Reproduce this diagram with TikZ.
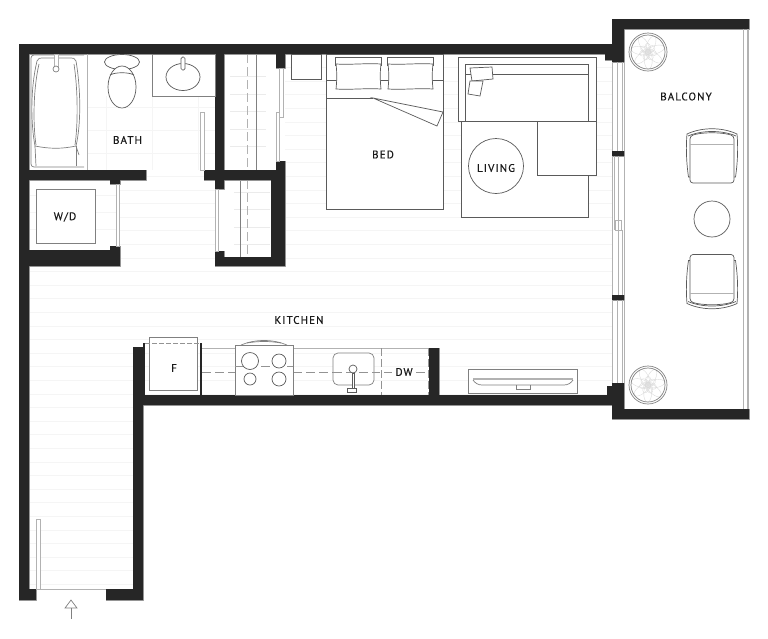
\documentclass[tikz,border=0pt]{standalone}
\usepackage{fontspec}
\newfontfamily\planfont[LetterSpace=10,FakeBold=0.4]{PT Sans}
\definecolor{wallcol}{HTML}{262626}
\definecolor{linecol}{HTML}{5a5a5a}
\tikzset{
    wall/.style={fill=wallcol,preaction={draw=gray!70,line width=0.8pt}},
    furn/.style={draw=linecol,line width=0.7pt,fill=white},
    thin/.style={draw=linecol,line width=0.7pt},
    glass/.style={draw=gray!60,line width=1pt},
    floorline/.style={draw=black!4,line width=0.7pt},
    hanger/.style={draw=black!8,line width=1pt},
    leaf/.style={draw=black!14,line width=0.4pt},
    dashline/.style={draw=gray!85,line width=0.7pt,dash pattern=on 9pt off 4pt},
    roomlabel/.style={font=\planfont\fontsize{11}{11}\selectfont,text=black!90,inner sep=0pt}
}
\begin{document}
\begin{tikzpicture}[x=1pt,y=-1pt]
    \useasboundingbox (0,0) rectangle (768,638);

    % Floor boards
    \foreach \k in {0,...,14} {
        \draw[floorline] (285,67.5+13.6*\k) -- (612,67.5+13.6*\k);
    }
    \foreach \k in {9,...,14} {
        \draw[floorline] (120,67.5+13.6*\k) -- (215,67.5+13.6*\k);
    }
    \foreach \k in {15,...,24} {
        \draw[floorline] (29,67.5+13.6*\k) -- (612,67.5+13.6*\k);
    }
    \foreach \k in {25,...,38} {
        \draw[floorline] (29,67.5+13.6*\k) -- (133,67.5+13.6*\k);
    }

    % Bath tiles
    \foreach \y in {107,130,153,176} {
        \draw[floorline] (87,\y) -- (215,\y);
    }
    \foreach \x in {106,152,198} {
        \draw[floorline] (\x,96) -- (\x,170);
    }
    \foreach \y in {195,212,229} {
        \draw[floorline] (29,\y) -- (116,\y);
    }

    % Closet rods
    \foreach \y in {76,94,111,129,146} {
        \draw[hanger] (230,\y) -- (266,\y);
    }
    \foreach \y in {192,209,227,244} {
        \draw[hanger] (234,\y) -- (270,\y);
    }
    \draw[thin,draw=gray] (256,54) -- (256,170);
    \draw[thin,draw=gray] (240,180) -- (240,257);
    \draw[dashline,draw=gray!60] (247,54) -- (247,170);
    \draw[dashline,draw=gray!60] (247,180) -- (247,257);

    % Walls
    \path[wall]
        (19,44) rectangle (612,54)
        (19,44) rectangle (29,600)
        (19,589) rectangle (36,600)
        (133,347) rectangle (143,600)
        (106,589) rectangle (143,600)
        (143,395) rectangle (612,405)
        (429,348) rectangle (439,395)
        (29,170) rectangle (146,180)
        (204,170) rectangle (285,180)
        (215,54) rectangle (224,189)
        (276,161) rectangle (285,266)
        (271,180) rectangle (285,266)
        (215,257) rectangle (285,266)
        (215,251) rectangle (224,266)
        (276,54) rectangle (285,68)
        (110,180) rectangle (120,184)
        (29,250) rectangle (120,266)
        (110,246) rectangle (120,266)
        (612,19) rectangle (749,29)
        (612,19) rectangle (624,62)
        (605,54) rectangle (624,60)
        (612,383) rectangle (624,419)
        (607,386) rectangle (624,405)
        (612,409) rectangle (749,419)
        (612,151) rectangle (624,156)
        (612,295) rectangle (624,300);

    % Windows and railing
    \foreach \x in {612,617,622,624} {
        \draw[glass] (\x,62) -- (\x,151);
        \draw[glass] (\x,300) -- (\x,383);
    }
    \foreach \x in {612,614,618} {
        \draw[glass] (\x,156) -- (\x,230);
    }
    \foreach \x in {612,618,622} {
        \draw[glass] (\x,230) -- (\x,295);
    }
    \draw[glass] (624,156) -- (624,295);
    \draw[glass,line width=0.7pt] (615,220) rectangle (621,230);
    \draw[glass] (743,29) -- (743,409);
    \draw[glass,line width=2pt] (748,29) -- (748,409);

    % Doors
    \draw[glass,fill=white] (200,112) rectangle (204,170);
    \draw[glass,fill=white] (279,68) rectangle (283,117);
    \draw[glass,fill=white] (276,112) rectangle (279,161);
    \draw[glass,fill=white] (215,189) rectangle (218,251);
    \draw[glass,fill=white] (116,184) rectangle (119,246);
    \draw[glass,fill=white] (36,519) rectangle (40,589);
    \draw[glass] (36,589) -- (106,589);

    % Entry arrow
    \coordinate (entrytip) at (71,600);
    \coordinate (entrybase) at (71,608);
    \coordinate (entryend) at (71,619);
    \draw[thin,draw=gray] (65,608) -- (entrytip) -- (77,608) -- cycle;
    \draw[thin,draw=gray] (entrybase) -- (entryend);

    % Tub
    \draw[glass] (87,54) -- (87,170);
    \draw[thin,draw=gray,rounded corners=3pt] (84,55) -- (31,55) -- (31,167) -- (84,167);
    \draw[thin,draw=gray] (37,61) .. controls (30,90) and (31,125) .. (35,146)
        .. controls (50,149) and (62,149) .. (76,146)
        .. controls (81,125) and (81,90) .. (76,61)
        .. controls (75,58) and (73,58) .. (71,58) -- (42,58)
        .. controls (40,58) and (38,58) .. (37,61) -- cycle;
    \draw[thin,draw=gray] (39,64) .. controls (33,90) and (33,125) .. (36,145);
    \draw[thin,draw=gray] (74,64) .. controls (78,90) and (78,125) .. (75,145);
    \draw[thin,draw=gray] (35,146) -- (36,166);
    \draw[thin,draw=gray] (76,146) -- (76,166);
    \draw[thin,draw=gray] (76,146) -- (79,155);
    \draw[glass,fill=white] (54,54) rectangle (58,68);
    \draw[furn,draw=gray] (56,69) circle (3);

    % Toilet
    \draw[furn] (122,62) ellipse (17.5 and 7.5);
    \draw[furn] (122,87) ellipse (14 and 21);
    \draw[thin] (110,75) .. controls (115,72) and (129,72) .. (134,75);

    % Vanity
    \draw[furn,draw=gray] (152,54) rectangle (215,96);
    \draw[furn] (183,77) ellipse (17 and 13.5);
    \draw[furn,rounded corners=1.5pt] (181,57) rectangle (185,70);

    % Laundry
    \draw[furn,draw=gray] (36,189) rectangle (95,243);
    \node[roomlabel] (washer) at (65,217) {W/D};
    \node[roomlabel] (bath) at (127.5,140) {BATH};

    % Bed
    \draw[furn] (291,54) rectangle (321,79);
    \draw[furn] (326,54) rectangle (443,209);
    \draw[thin] (326,80) -- (443,80);
    \foreach \x in {335,387} {
        \draw[furn] (\x,57) -- (\x+46,57) -- (\x+46,65) -- (\x,65) -- cycle;
        \draw[furn] (\x+1,64) .. controls (\x+15,65) and (\x+30,63) .. (\x+46,64)
            .. controls (\x+45,72) and (\x+45,80) .. (\x+46,89)
            .. controls (\x+30,88) and (\x+15,90) .. (\x+1,89)
            .. controls (\x+2,80) and (\x+2,72) .. (\x+1,64) -- cycle;
    }
    \draw[thin] (326,98) -- (373,98);
    \draw[furn] (373,98) -- (443,112) -- (437,126) -- cycle;
    \node[roomlabel] (bed) at (383,154.5) {BED};

    % Living
    \draw[furn] (461,121) rectangle (588,217);
    \draw[furn] (458,57) rectangle (596,121);
    \draw[furn] (465,64) rectangle (588,121);
    \draw[thin] (465,74) -- (588,74);
    \draw[furn] (537,121) rectangle (596,175);
    \draw[furn] (470,68) -- (492,67) -- (493,79) -- (472,81) -- cycle;
    \draw[furn] (470,81) -- (483,81) -- (480,96) -- (468,94) -- cycle;
    \draw[furn] (496,166) circle (27.5);
    \node[roomlabel] (living) at (496,168) {LIVING};

    % Balcony
    \node[roomlabel] (balcony) at (686,96.5) {BALCONY};
    \foreach \c/\s in {155/1,282.5/-1} {
        \begin{scope}[shift={(712,\c)},yscale=\s]
            \draw[furn] (-22,22) -- (-23.5,22) .. controls (-26,5) and (-26,-10) .. (-25,-21)
                .. controls (-10,-28) and (10,-28) .. (25,-21)
                .. controls (26,-10) and (26,5) .. (23.5,22) -- (22,22);
            \draw[thin] (-24,-19) .. controls (-10,-25) and (10,-25) .. (24,-19);
            \draw[furn,rounded corners=3pt] (-22,-19) .. controls (-10,-23) and (10,-23) .. (22,-19)
                -- (22,28) -- (-22,28) -- cycle;
            \draw[glass] (-22,-11) -- (22,-11);
        \end{scope}
    }
    \draw[furn] (712,219) circle (18);

    % Planters
    \foreach \c/\t in {52/17,385/64} {
        \foreach \a in {0,51,...,310} {
            \draw[leaf,rotate around={\a+\t:(648,\c)}] (656,\c) ellipse (9 and 4);
            \draw[leaf,rotate around={\a+\t+25:(648,\c)}] (651,\c) ellipse (6 and 3);
        }
        \draw[thin,draw=gray] (648,\c) circle (19);
        \draw[thin,draw=gray] (648,\c) circle (17);
    }

    % Fridge
    \draw[furn,draw=gray] (149,337) rectangle (197,390);
    \draw[dashline,dash pattern=on 5pt off 2pt] (145,343) -- (201,343);
    \draw[draw=wallcol,line width=1.5pt] (144,343) -- (144,395);
    \draw[draw=wallcol,line width=1.5pt] (201,343) -- (201,395);
    \node[roomlabel] (fridge) at (174,368) {F};
    \node[roomlabel] (kitchen) at (299,320) {KITCHEN};

    % Counter
    \draw[glass] (202,348) -- (429,348);
    \draw[dashline] (202,372) -- (235,372);
    \draw[dashline] (293,372) -- (392,372);
    \draw[dashline] (416,372) -- (428,372);
    \draw[dashline,dash pattern=on 8pt off 3pt] (381,348) -- (381,395);
    \draw[dashline,dash pattern=on 8pt off 3pt] (428,348) -- (428,395);
    \node[roomlabel] (dw) at (404,372) {DW};

    % Range
    \draw[furn,draw=gray] (235,345) rectangle (293,395);
    \draw[thin,draw=gray] (241,345) .. controls (255,339) and (273,339) .. (287,345);
    \draw[thin,draw=gray] (247,343) .. controls (258,341) and (270,341) .. (281,343);
    \draw[dashline] (235,366) -- (293,366);
    \draw[furn] (250,361) circle (8.5);
    \draw[furn] (279,361) circle (7);
    \draw[furn] (250,379) circle (6);
    \draw[furn] (279,379) circle (7);

    % Sink
    \draw[furn,draw=gray,rounded corners=5pt] (333,353) rectangle (374,385);
    \draw[dashline] (333,372) -- (374,372);
    \draw[furn] (352,373) rectangle (354.5,389);
    \draw[furn] (353,369) circle (4);
    \draw[furn] (347.5,388) rectangle (356,392);

    % TV
    \draw[furn,draw=gray] (468,369) rectangle (577,393);
    \draw[glass,line width=1.5pt] (473,379) -- (573,379);
    \draw[thin,draw=gray] (473,380) .. controls (475,383) and (478,385) .. (482,385) -- (564,385)
        .. controls (568,385) and (571,383) .. (573,380);
    \draw[thin,draw=gray] (516,385) -- (516,389) -- (530,389) -- (530,385);
\end{tikzpicture}
\end{document}
